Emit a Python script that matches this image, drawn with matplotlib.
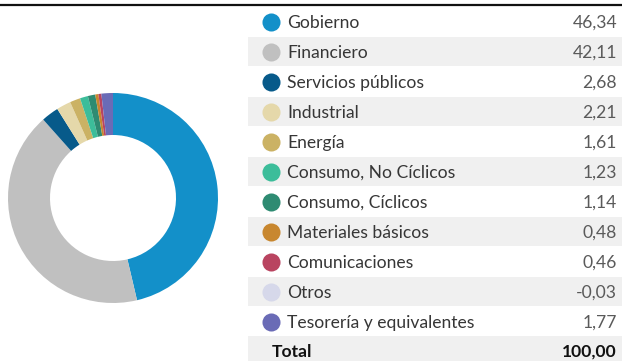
import matplotlib.pyplot as plt
from matplotlib.patches import Rectangle

# sector weights (%)
sectores = ["Gobierno", "Financiero", "Servicios públicos", "Industrial", "Energía",
            "Consumo, No Cíclicos", "Consumo, Cíclicos", "Materiales básicos",
            "Comunicaciones", "Otros", "Tesorería y equivalentes"]
pesos = [46.34, 42.11, 2.68, 2.21, 1.61, 1.23, 1.14, 0.48, 0.46, -0.03, 1.77]
colores = ["#1390c9", "#c0c0c0", "#075a8a", "#e5d8aa", "#cbb264", "#3cbd9a",
           "#2e8b72", "#c8872f", "#b94460", "#d6d8ea", "#6a6bb6"]
total = 100.00

plt.rcParams['font.family'] = ['Lato', 'DejaVu Sans']

W, H = 622, 361
fig = plt.figure(figsize=(W / 100, H / 100), dpi=100)

# tabla en coordenadas de pixel
ax = fig.add_axes([0, 0, 1, 1])
ax.set_xlim(0, W)
ax.set_ylim(H, 0)
ax.axis("off")

ax.plot([0, W], [5.3, 5.3], color="#111111", lw=1.6, solid_capstyle="butt")

def fmt(v):
    return f"{v:.2f}".replace(".", ",")

y0, paso = 22, 30
for i, (s, p, c) in enumerate(zip(sectores, pesos, colores)):
    y = y0 + i * paso
    if i % 2 == 1:
        ax.add_patch(Rectangle((248, y - 15), W - 248, 29, color="#f0f0f0", lw=0))
    ax.plot(271, y, "o", ms=13, color=c, mec="none")
    ax.text(287, y + 1, s, va="center", ha="left", fontsize=12.6, color="#363636",
            fontweight="normal")
    ax.text(617, y + 1, fmt(p), va="center", ha="right", fontsize=12.6, color="#5a5a5a",
            fontweight="normal")

yt = y0 + len(sectores) * paso
ax.add_patch(Rectangle((248, yt - 16), W - 248, 40, color="#f0f0f0", lw=0))
ax.text(272, yt, "Total", va="center", ha="left", fontsize=12.6, color="#111111",
        fontweight="bold")
ax.text(617, yt, fmt(total), va="center", ha="right", fontsize=12.6, color="#111111",
        fontweight="bold")

# donut
cx, cy, r = 113, 198, 105
axp = fig.add_axes([(cx - r) / W, (H - cy - r) / H, 2 * r / W, 2 * r / H])
axp.pie([max(p, 0) for p in pesos], colors=colores, startangle=90, counterclock=False,
        radius=1, wedgeprops=dict(width=0.4, linewidth=0))
axp.set_xlim(-1, 1)
axp.set_ylim(-1, 1)
axp.set_aspect("equal")
axp.axis("off")

fig.savefig("out.png", dpi=100)
